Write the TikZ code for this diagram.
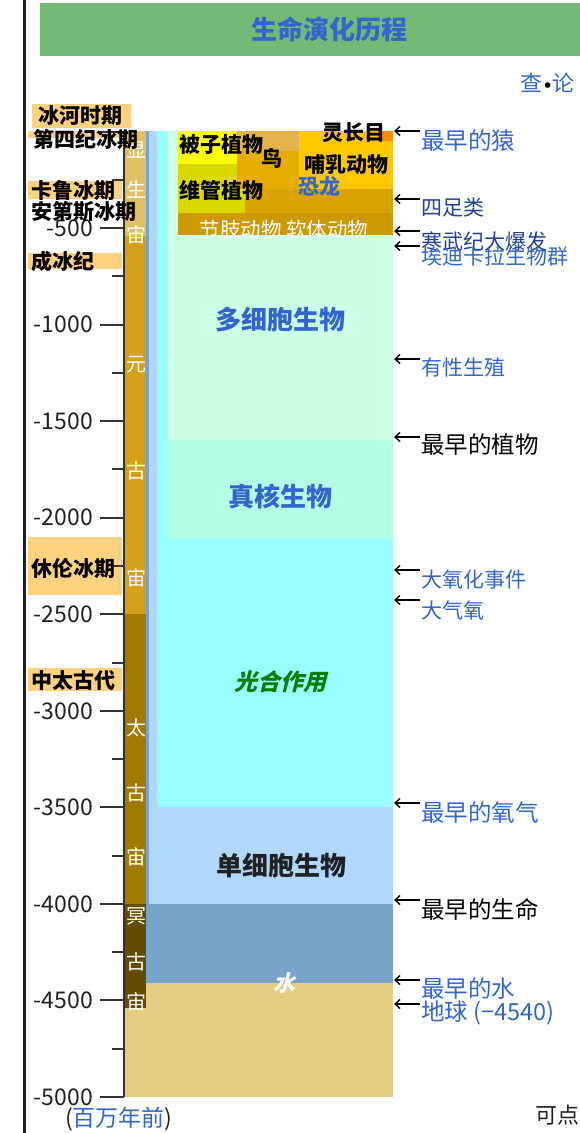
\documentclass[tikz,border=0pt]{standalone}
\usepackage{fontspec}
\setmainfont{Noto Sans CJK SC}
\newfontfamily\slfont{Noto Sans CJK SC}[FakeSlant=0.25]
\newfontfamily\dotfont{DejaVu Sans}
\usetikzlibrary{arrows.meta}
\definecolor{hdrgreen}{HTML}{76B876}
\definecolor{linkblue}{HTML}{3366CC}
\definecolor{visblue}{HTML}{243F99}
\definecolor{txtdark}{HTML}{202122}
\definecolor{glacier}{HTML}{FFD280}
\definecolor{phan}{HTML}{E1C064}
\definecolor{prot}{HTML}{D4A017}
\definecolor{arch}{HTML}{A37A00}
\definecolor{hade}{HTML}{644B00}
\definecolor{sand}{HTML}{E5CC80}
\definecolor{water}{HTML}{78A3CB}
\definecolor{single}{HTML}{B0D8FF}
\definecolor{photo}{HTML}{99FFFF}
\definecolor{eukar}{HTML}{B3FFE6}
\definecolor{multi}{HTML}{CCFFE6}
\definecolor{arthro}{HTML}{CC9900}
\definecolor{vasc}{HTML}{D9D900}
\definecolor{tetra}{HTML}{D8A200}
\definecolor{dino}{HTML}{E6AC00}
\definecolor{bird}{HTML}{E3B44A}
\definecolor{mamm}{HTML}{FFC800}
\definecolor{prim}{HTML}{FF8C00}
\definecolor{angio}{HTML}{FFFF00}
\definecolor{axisgray}{HTML}{333333}
\begin{document}
\begin{tikzpicture}[x=1pt,y=-1pt,
  every node/.style={inner sep=0pt},
  ticklab/.style={font=\fontsize{23}{23}\selectfont, text=txtdark, anchor=east},
  glab/.style={font=\fontsize{21}{21}\selectfont\bfseries, text=black, anchor=west},
  eon/.style={font=\fontsize{20}{20}\selectfont, text=white},
  inlab/.style={font=\fontsize{21}{21}\selectfont\bfseries, text=black},
  biglab/.style={font=\fontsize{26}{26}\selectfont\bfseries},
  rlab/.style={font=\fontsize{21}{21}\selectfont, text=linkblue, anchor=west},
  rlabL/.style={font=\fontsize{23.5}{23.5}\selectfont, text=linkblue, anchor=west},
  arr/.style={-{Straight Barb[length=5pt,width=9pt]}, line width=1.4pt, black},
  tickmaj/.style={line width=2pt, axisgray},
]
\useasboundingbox (0,0) rectangle (580,1133);
% page rule at left
\fill[black!87] (22.5,0) rectangle (26,1133);
% header
\fill[hdrgreen] (40,3) rectangle (580,56);
\node[font=\fontsize{26}{26}\selectfont\bfseries, text=linkblue] (title) at (329,29) {生命演化历程};
\node[font=\fontsize{22}{22}\selectfont, anchor=east] (vt) at (575,83) {\textcolor{linkblue}{查}{\dotfont\bfseries\fontsize{16}{16}\selectfont •}\textcolor{linkblue}{论}};

% chart layers
\fill[sand] (125,983) rectangle (393,1097);
\fill[water] (146,131) rectangle (393,983);
\fill[single] (149,131) rectangle (393,904);
\fill[photo] (157,131) rectangle (393,807);
\fill[eukar] (168,131) rectangle (393,538);
\fill[multi] (168,131) rectangle (393,440);
\fill[arthro] (178,131) rectangle (393,235);
\fill[vasc] (178,131) rectangle (245,213);
\fill[tetra] (245,131) rectangle (393,213);
\fill[dino] (237,131) rectangle (393,189);
\fill[bird] (237,131) rectangle (299,151);
\fill[mamm] (299,131) rectangle (393,189);
\fill[prim] (378,131) rectangle (393,141);
\fill[angio] (178,131) rectangle (237,164);

% eons
\fill[phan] (125,131) rectangle (146,236);
\fill[prot] (125,236) rectangle (146,614);
\fill[arch] (125,614) rectangle (146,904);
\fill[hade] (125,904) rectangle (146,1008);
\node[eon] (e1) at (136,150) {显};
\node[eon] (e2) at (136,190) {生};
\node[eon] (e3) at (136,235) {宙};
\node[eon] (e4) at (136,365) {元};
\node[eon] (e5) at (136,471) {古};
\node[eon] (e6) at (136,578) {宙};
\node[eon] (e7) at (136,728) {太};
\node[eon] (e8) at (136,793) {古};
\node[eon] (e9) at (136,857) {宙};
\node[eon] (e10) at (136,916) {冥};
\node[eon] (e11) at (136,962) {古};
\node[eon] (e12) at (136,1002) {宙};

% glaciations
\fill[glacier] (32,104) rectangle (131,128);
\fill[glacier] (28,131) rectangle (122,138);
\fill[glacier] (28,181) rectangle (122,199);
\fill[glacier] (28,253) rectangle (122,269);
\fill[glacier] (28,537) rectangle (122,595);
\fill[glacier] (28,668) rectangle (122,691);

% axis
\draw[tickmaj] (124.3,131) -- (124.3,1097);
\foreach \k in {0,...,10} {
  \draw[tickmaj] (100,131.5+96.55*\k) -- (124.3,131.5+96.55*\k);
}
\foreach \k in {0,...,9} {
  \draw[tickmaj] (112,179.8+96.55*\k) -- (124.3,179.8+96.55*\k);
}
\foreach \k/\v in {1/500,2/1000,3/1500,4/2000,5/2500,6/3000,7/3500,8/4000,9/4500,10/5000} {
  \node[ticklab] (t\k) at (93,131.5+96.55*\k) {-\v};
}

% glaciation labels
\node[glab] (g1) at (38,116) {冰河时期};
\node[glab] (g2) at (33,139) {第四纪冰期};
\node[glab] (g3) at (31,190) {卡鲁冰期};
\node[glab] (g4) at (31,212) {安第斯冰期};
\node[glab] (g5) at (31,261) {成冰纪};
\node[glab] (g6) at (31,568) {休伦冰期};
\node[glab] (g7) at (31,681) {中太古代};

% inner labels
\node[inlab] (l1) at (221,144) {被子植物};
\node[inlab] (l2) at (272,158) {鸟};
\node[inlab] (l3) at (354,133) {灵长目};
\node[inlab] (l4) at (346,164) {哺乳动物};
\node[inlab, text=linkblue] (l5) at (319,186) {恐龙};
\node[inlab] (l6) at (221,190) {维管植物};
\node[font=\fontsize{20.5}{20.5}\selectfont, text=white] (l7) at (284,230) {节肢动物\ 软体动物};
\node[biglab, text=linkblue] (b1) at (280,320) {多细胞生物};
\node[biglab, text=linkblue] (b2) at (280,496) {真核生物};
\node[font=\fontsize{23}{23}\selectfont\slfont\bfseries, text=green!50!black] (b3) at (280,682) {光合作用};
\node[biglab, text=txtdark] (b4) at (281,866) {单细胞生物};
\node[font=\fontsize{22}{22}\selectfont\slfont\bfseries, text=white] (b5) at (284,983) {水};

% right side events
\foreach \n/\y in {1/131,2/199,3/231,4/246,5/359,6/437,7/570,8/600,9/803,10/900,11/980,12/1004} {
  \coordinate (s\n) at (420,\y);
  \coordinate (h\n) at (394,\y);
  \draw[arr] (s\n) -- (h\n);
}
\node[rlabL] (r1) at (421,141) {最早的猿};
\node[rlab, text=visblue] (r2) at (421,208) {四足类};
\node[rlab, text=visblue] (r3) at (421,241) {寒武纪大爆发};
\node[rlab] (r4) at (421,256) {埃迪卡拉生物群};
\node[rlab] (r5) at (421,368) {有性生殖};
\node[rlabL, text=black] (r6) at (421,445) {最早的植物};
\node[rlab] (r7) at (421,580) {大氧化事件};
\node[rlab] (r8) at (421,610) {大气氧};
\node[rlabL] (r9) at (421,813) {最早的氧气};
\node[rlabL, text=black] (r10) at (421,909) {最早的生命};
\node[rlabL] (r11) at (421,989) {最早的水};
\node[rlabL] (r12) at (421,1013) {地球 (−4540)};

% bottom
\node[font=\fontsize{23}{23}\selectfont, anchor=west, text=txtdark] (unit) at (65,1119) {(\textcolor{linkblue}{百万年前})};
\node[font=\fontsize{22}{22}\selectfont, anchor=west, text=txtdark] (click) at (535,1115) {可点};
\end{tikzpicture}
\end{document}
